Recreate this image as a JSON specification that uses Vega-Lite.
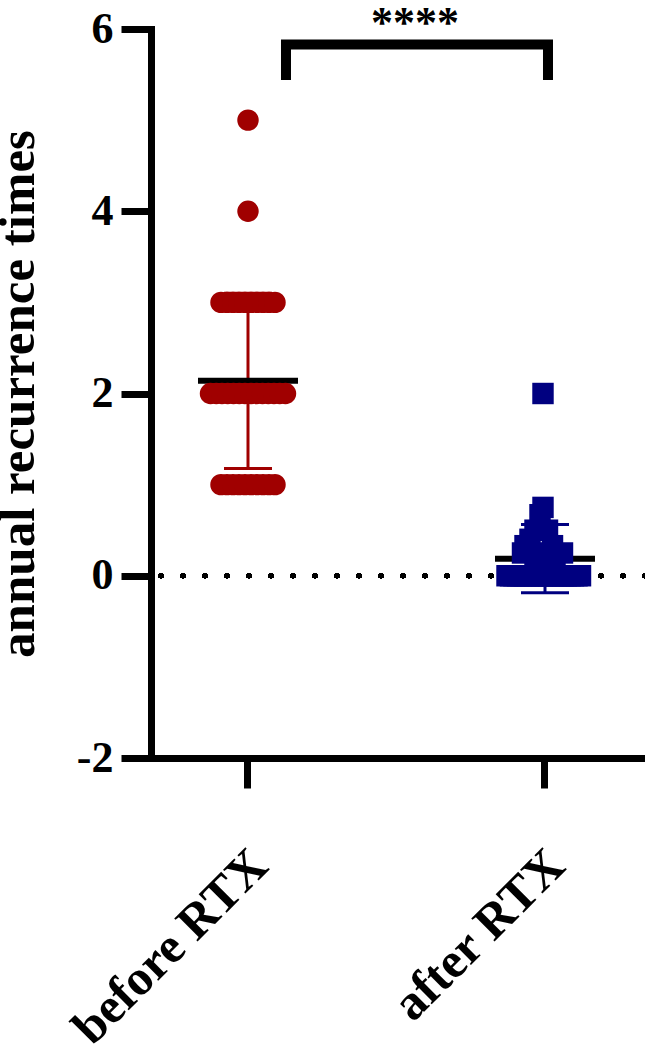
{
  "$schema": "https://vega.github.io/schema/vega-lite/v6.json",
  "width": 494,
  "height": 729,
  "autosize": "none",
  "padding": {"left": 151, "top": 29, "right": 0, "bottom": 300},
  "background": "white",
  "config": {
    "view": {"stroke": null},
    "axis": {
      "grid": false,
      "domainColor": "black",
      "tickColor": "black",
      "labelColor": "black",
      "titleColor": "black",
      "labelFont": "Liberation Serif",
      "titleFont": "Liberation Serif",
      "labelFontWeight": "bold",
      "titleFontWeight": "bold",
      "domainWidth": 7,
      "tickWidth": 7,
      "tickSize": 30,
      "domainCap": "square",
      "labelLimit": 0,
      "titleLimit": 0
    }
  },
  "datasets": {
    "points": [
      {"group": "before RTX", "value": 5, "jitter": 0},
      {"group": "before RTX", "value": 4, "jitter": 0},
      {"group": "before RTX", "value": 3, "jitter": -5.4},
      {"group": "before RTX", "value": 3, "jitter": -4.2},
      {"group": "before RTX", "value": 3, "jitter": -3.0},
      {"group": "before RTX", "value": 3, "jitter": -1.8},
      {"group": "before RTX", "value": 3, "jitter": -0.6},
      {"group": "before RTX", "value": 3, "jitter": 0.6},
      {"group": "before RTX", "value": 3, "jitter": 1.8},
      {"group": "before RTX", "value": 3, "jitter": 3.0},
      {"group": "before RTX", "value": 3, "jitter": 4.2},
      {"group": "before RTX", "value": 3, "jitter": 5.4},
      {"group": "before RTX", "value": 2, "jitter": -7.5},
      {"group": "before RTX", "value": 2, "jitter": -6.35},
      {"group": "before RTX", "value": 2, "jitter": -5.2},
      {"group": "before RTX", "value": 2, "jitter": -4.05},
      {"group": "before RTX", "value": 2, "jitter": -2.9},
      {"group": "before RTX", "value": 2, "jitter": -1.75},
      {"group": "before RTX", "value": 2, "jitter": -0.6},
      {"group": "before RTX", "value": 2, "jitter": 0.6},
      {"group": "before RTX", "value": 2, "jitter": 1.75},
      {"group": "before RTX", "value": 2, "jitter": 2.9},
      {"group": "before RTX", "value": 2, "jitter": 4.05},
      {"group": "before RTX", "value": 2, "jitter": 5.2},
      {"group": "before RTX", "value": 2, "jitter": 6.35},
      {"group": "before RTX", "value": 2, "jitter": 7.5},
      {"group": "before RTX", "value": 1, "jitter": -5.4},
      {"group": "before RTX", "value": 1, "jitter": -4.2},
      {"group": "before RTX", "value": 1, "jitter": -3.0},
      {"group": "before RTX", "value": 1, "jitter": -1.8},
      {"group": "before RTX", "value": 1, "jitter": -0.6},
      {"group": "before RTX", "value": 1, "jitter": 0.6},
      {"group": "before RTX", "value": 1, "jitter": 1.8},
      {"group": "before RTX", "value": 1, "jitter": 3.0},
      {"group": "before RTX", "value": 1, "jitter": 4.2},
      {"group": "before RTX", "value": 1, "jitter": 5.4},
      {"group": "after RTX", "value": 2, "jitter": -0.4},
      {"group": "after RTX", "value": 0.75, "jitter": -0.4},
      {"group": "after RTX", "value": 0.67, "jitter": -1},
      {"group": "after RTX", "value": 0.5, "jitter": -2},
      {"group": "after RTX", "value": 0.5, "jitter": 0.5},
      {"group": "after RTX", "value": 0.4, "jitter": -3},
      {"group": "after RTX", "value": 0.33, "jitter": -4},
      {"group": "after RTX", "value": 0.33, "jitter": 1.5},
      {"group": "after RTX", "value": 0.25, "jitter": -4.5},
      {"group": "after RTX", "value": 0.25, "jitter": -1},
      {"group": "after RTX", "value": 0.25, "jitter": 3.5},
      {"group": "after RTX", "value": 0.2, "jitter": -2},
      {"group": "after RTX", "value": 0.2, "jitter": 2},
      {"group": "after RTX", "value": 0.1, "jitter": 0},
      {"group": "after RTX", "value": 0, "jitter": -7.6},
      {"group": "after RTX", "value": 0, "jitter": -6.9},
      {"group": "after RTX", "value": 0, "jitter": -6.2},
      {"group": "after RTX", "value": 0, "jitter": -5.5},
      {"group": "after RTX", "value": 0, "jitter": -4.8},
      {"group": "after RTX", "value": 0, "jitter": -4.1},
      {"group": "after RTX", "value": 0, "jitter": -3.4},
      {"group": "after RTX", "value": 0, "jitter": -2.7},
      {"group": "after RTX", "value": 0, "jitter": -2.0},
      {"group": "after RTX", "value": 0, "jitter": -1.3},
      {"group": "after RTX", "value": 0, "jitter": -0.6},
      {"group": "after RTX", "value": 0, "jitter": 0.1},
      {"group": "after RTX", "value": 0, "jitter": 0.8},
      {"group": "after RTX", "value": 0, "jitter": 1.5},
      {"group": "after RTX", "value": 0, "jitter": 2.2},
      {"group": "after RTX", "value": 0, "jitter": 2.9},
      {"group": "after RTX", "value": 0, "jitter": 3.6},
      {"group": "after RTX", "value": 0, "jitter": 4.3},
      {"group": "after RTX", "value": 0, "jitter": 5.0},
      {"group": "after RTX", "value": 0, "jitter": 5.7},
      {"group": "after RTX", "value": 0, "jitter": 6.4},
      {"group": "after RTX", "value": 0, "jitter": 7.1}
    ],
    "bracket": [
      {"k": 1, "group": "before RTX", "jitter": 7.6, "value": 5.44},
      {"k": 2, "group": "before RTX", "jitter": 7.6, "value": 5.83},
      {"k": 3, "group": "after RTX", "jitter": 0.6, "value": 5.83},
      {"k": 4, "group": "after RTX", "jitter": 0.6, "value": 5.44}
    ],
    "stars": [
      {"group": "before RTX", "jitter": 33.4, "value": 5.91, "label": "****"}
    ]
  },
  "layer": [
    {
      "data": {"name": "points"},
      "mark": {"type": "rule", "strokeDash": [0, 22], "strokeCap": "round", "strokeWidth": 5, "color": "black"},
      "encoding": {
        "y": {"datum": 0, "type": "quantitative", "scale": {"domain": [-2, 6], "nice": false, "zero": false}}
      }
    },
    {
      "data": {"name": "points"},
      "transform": [
        {"aggregate": [{"op": "mean", "field": "value", "as": "mean"}, {"op": "stdev", "field": "value", "as": "sd"}], "groupby": ["group"]},
        {"calculate": "datum.mean - datum.sd", "as": "lo"},
        {"calculate": "datum.mean + datum.sd", "as": "hi"}
      ],
      "layer": [
        {
          "mark": {"type": "rule", "strokeWidth": 3},
          "encoding": {
            "x": {"field": "group", "type": "nominal", "sort": ["before RTX", "after RTX"]},
            "y": {"field": "lo", "type": "quantitative"},
            "y2": {"field": "hi"},
            "color": {"field": "group", "type": "nominal", "scale": {"domain": ["before RTX", "after RTX"], "range": ["#A00000", "#000080"]}, "legend": null}
          }
        },
        {
          "mark": {"type": "tick", "size": 48, "thickness": 3, "opacity": 1},
          "encoding": {
            "x": {"field": "group", "type": "nominal", "sort": ["before RTX", "after RTX"]},
            "y": {"field": "lo", "type": "quantitative"},
            "color": {"field": "group", "type": "nominal", "legend": null}
          }
        },
        {
          "mark": {"type": "tick", "size": 48, "thickness": 3, "opacity": 1},
          "encoding": {
            "x": {"field": "group", "type": "nominal", "sort": ["before RTX", "after RTX"]},
            "y": {"field": "hi", "type": "quantitative"},
            "color": {"field": "group", "type": "nominal", "legend": null}
          }
        },
        {
          "mark": {"type": "tick", "size": 100, "thickness": 6, "opacity": 1, "color": "black"},
          "encoding": {
            "x": {"field": "group", "type": "nominal", "sort": ["before RTX", "after RTX"]},
            "y": {"field": "mean", "type": "quantitative"}
          }
        }
      ]
    },
    {
      "data": {"name": "points"},
      "mark": {"type": "point", "filled": true, "opacity": 1, "size": 460, "strokeWidth": 0},
      "encoding": {
        "x": {
          "field": "group",
          "type": "nominal",
          "sort": ["before RTX", "after RTX"],
          "scale": {"type": "band", "paddingInner": 0.6633, "paddingOuter": 0.1633, "align": 0.4845},
          "axis": {
            "title": null,
            "labelAngle": -45,
            "labelFontSize": 50,
            "labelAlign": "right",
            "labelBaseline": "top",
            "labelPadding": 52,
            "labelOffset": -6
          }
        },
        "xOffset": {"field": "jitter", "type": "quantitative", "scale": {"domain": [-10, 10], "nice": false, "zero": false}},
        "y": {
          "field": "value",
          "type": "quantitative",
          "scale": {"domain": [-2, 6], "nice": false, "zero": false},
          "axis": {
            "title": "annual recurrence times",
            "values": [-2, 0, 2, 4, 6],
            "labelExpr": "toString(datum.value)",
            "labelFontSize": 44,
            "labelPadding": 8,
            "titleFontSize": 51,
            "titlePadding": 32
          }
        },
        "color": {"field": "group", "type": "nominal", "legend": null},
        "shape": {"field": "group", "type": "nominal", "scale": {"domain": ["before RTX", "after RTX"], "range": ["circle", "square"]}, "legend": null}
      }
    },
    {
      "data": {"name": "bracket"},
      "mark": {"type": "line", "strokeWidth": 10, "strokeCap": "butt", "strokeJoin": "miter", "color": "black"},
      "encoding": {
        "x": {"field": "group", "type": "nominal", "sort": ["before RTX", "after RTX"]},
        "xOffset": {"field": "jitter", "type": "quantitative"},
        "y": {"field": "value", "type": "quantitative"},
        "order": {"field": "k", "type": "quantitative"}
      }
    },
    {
      "data": {"name": "stars"},
      "mark": {"type": "text", "font": "Liberation Serif", "fontWeight": "bold", "fontSize": 44, "baseline": "alphabetic", "align": "center", "color": "black"},
      "encoding": {
        "x": {"field": "group", "type": "nominal", "sort": ["before RTX", "after RTX"]},
        "xOffset": {"field": "jitter", "type": "quantitative"},
        "y": {"field": "value", "type": "quantitative"},
        "text": {"field": "label"}
      }
    }
  ]
}
